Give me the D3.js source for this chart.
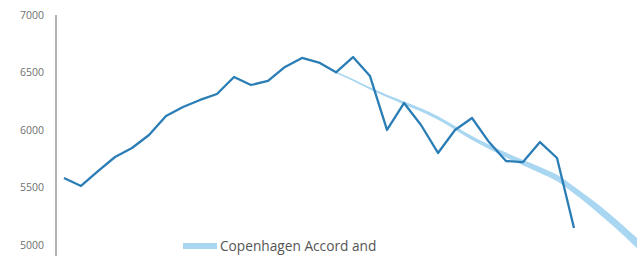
<!DOCTYPE html>
<html>
<head>
<meta charset="utf-8">
<script src="https://cdn.jsdelivr.net/npm/d3@7"></script>
<style>
html,body{margin:0;padding:0;background:#fff;overflow:hidden;}
svg{display:block;}
</style>
</head>
<body>
<svg id="chart" width="637" height="256"></svg>
<script>
const years = d3.range(1990, 2021);
const emissions = [5591, 5522, 5652, 5774, 5852, 5965, 6130, 6209, 6270, 6322,
  6470, 6400, 6435, 6557, 6635, 6595, 6510, 6643, 6478, 6009,
  6243, 6052, 5809, 6009, 6113, 5904, 5739, 5730, 5904, 5765, 5157];
const projYears = [2006, 2007, 2008, 2010, 2011, 2012, 2014, 2016, 2018, 2019, 2020, 2021, 2022, 2023, 2024];
const projCenter = [6510, 6443, 6370, 6243, 6183, 6113, 5939, 5791, 5661, 5591, 5487, 5374, 5252, 5122, 4983];
const projSpread = [8, 9, 10, 13, 14, 15, 17, 21, 26, 28, 30, 34, 39, 42, 45];
const yTicks = [5000, 5500, 6000, 6500, 7000];
const legendLabel = "Copenhagen Accord and";

const svg = d3.select("#chart");
const x = d3.scaleLinear().domain([1990, 2020]).range([64, 574]);
const y = d3.scaleLinear().domain([5000, 7000]).range([246, 16]);

// y axis
const yAxis = d3.axisLeft(y).tickValues(yTicks).tickSize(0).tickPadding(12).tickFormat(d3.format("d"));
const ga = svg.append("g").attr("transform", "translate(56,0)").call(yAxis);
ga.select(".domain").remove();
ga.selectAll("text").attr("fill", "#707070").attr("dy", "0.2em")
  .style("font-family", "'Open Sans', sans-serif").style("font-size", "10.5px");
svg.append("line").attr("x1", 56).attr("x2", 56).attr("y1", 15).attr("y2", 256)
  .attr("stroke", "#999").attr("stroke-width", 1.5);

// projection band
const projData = projYears.map((yr, i) => ({yr, c: projCenter[i], s: projSpread[i]}));
const area = d3.area().x(d => x(d.yr)).y0(d => y(d.c - d.s)).y1(d => y(d.c + d.s)).curve(d3.curveMonotoneX);
svg.append("path").datum(projData).attr("d", area).attr("fill", "#a9d6f1");

// emissions line
const line = d3.line().x((d, i) => x(years[i])).y(d => y(d));
svg.append("path").datum(emissions).attr("d", line).attr("fill", "none")
  .attr("stroke", "#2a7db5").attr("stroke-width", 2.3).attr("stroke-linejoin", "round");

// legend
svg.append("rect").attr("x", 183).attr("y", 243).attr("width", 34).attr("height", 6).attr("fill", "#a9d6f1");
svg.append("text").attr("x", 220).attr("y", 251).text(legendLabel)
  .attr("fill", "#555").style("font-family", "'Open Sans', sans-serif").style("font-size", "13.7px");
</script>
</body>
</html>
